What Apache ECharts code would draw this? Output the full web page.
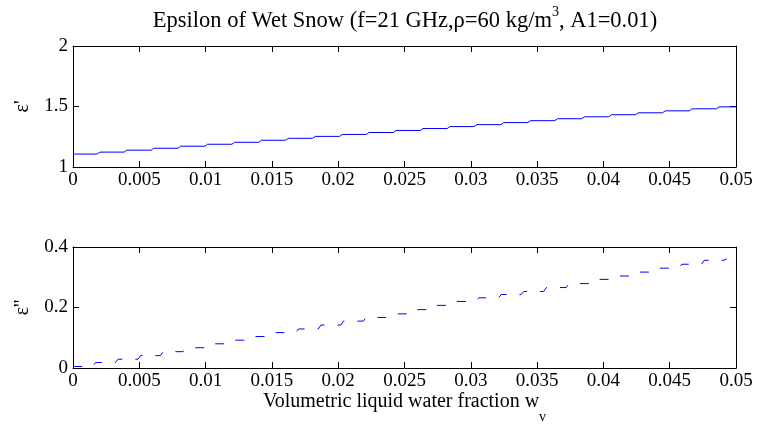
<!DOCTYPE html>
<html>
<head>
<meta charset="utf-8">
<script src="https://cdn.jsdelivr.net/npm/echarts@6/dist/echarts.min.js"></script>
<style>html,body{margin:0;padding:0;background:#fff}#c{width:757px;height:426px}</style>
</head>
<body>
<div id="c"></div>
<script>
// Top panel: epsilon' (solid, stepped) - x where each level starts, and level values
const wTop = [0, 0.00203, 0.00406, 0.00609, 0.00812, 0.01015, 0.01218, 0.01421, 0.01624, 0.01827,
  0.0203, 0.02233, 0.02436, 0.02639, 0.02842, 0.03045, 0.03248, 0.03451, 0.03654, 0.03857,
  0.0406, 0.04263, 0.04466, 0.04669, 0.04872, 0.05];
const epsReal = [1.107, 1.123, 1.139, 1.155, 1.172, 1.188, 1.204, 1.221, 1.237, 1.253,
  1.269, 1.285, 1.302, 1.318, 1.334, 1.350, 1.367, 1.383, 1.399, 1.415,
  1.432, 1.448, 1.464, 1.481, 1.497, 1.497];
// Bottom panel: epsilon'' (dashed, stepped)
const wBot = [0, 0.0017, 0.0034, 0.0051, 0.0068, 0.0085, 0.0102, 0.0119, 0.0136, 0.0153,
  0.017, 0.0187, 0.0204, 0.0221, 0.0238, 0.0255, 0.0272, 0.0289, 0.0306, 0.0323,
  0.034, 0.0357, 0.0374, 0.0391, 0.0408, 0.0425, 0.0442, 0.0459, 0.0476, 0.0493];
const epsImag = [0.005, 0.018, 0.029, 0.041, 0.054, 0.067, 0.080, 0.092, 0.104, 0.117,
  0.129, 0.142, 0.155, 0.167, 0.179, 0.193, 0.207, 0.220, 0.232, 0.243,
  0.253, 0.266, 0.279, 0.293, 0.304, 0.317, 0.330, 0.343, 0.356, 0.361];
const xTicks = {min: 0, max: 0.05, interval: 0.005};
const yTopTicks = {min: 1, max: 2, interval: 0.5};
const yBotTicks = {min: 0, max: 0.4, interval: 0.2};

// Staircase: each level holds until the next x, then a short slanted rise.
const RISE_W = 0.0002;
function stairs(xs, vs) {
  const out = [];
  for (let i = 0; i < xs.length - 1; i++) {
    out.push([xs[i], vs[i]]);
    out.push([xs[i + 1] - RISE_W, vs[i]]);
  }
  out.push([xs[xs.length - 1], vs[vs.length - 1]]);
  return out;
}

const FONT = 'Liberation Serif';
const axisLineS = {show: true, onZero: false, lineStyle: {color: '#000', width: 1}};
const tickS = {show: true, inside: true, length: 6, lineStyle: {color: '#000', width: 1}};
const labelS = {color: '#000', fontFamily: FONT, fontSize: 19, fontWeight: 'normal'};

function xAx(grid, pos, labels, extra) {
  return Object.assign({
    type: 'value', gridIndex: grid, position: pos,
    min: xTicks.min, max: xTicks.max, interval: xTicks.interval,
    axisLine: axisLineS, axisTick: tickS, splitLine: {show: false},
    axisLabel: labels ? Object.assign({margin: 4}, labelS) : {show: false}
  }, extra || {});
}
function yAx(grid, pos, t, labels, extra) {
  return Object.assign({
    type: 'value', gridIndex: grid, position: pos,
    min: t.min, max: t.max, interval: t.interval,
    axisLine: axisLineS, axisTick: tickS, splitLine: {show: false},
    axisLabel: labels ? Object.assign({margin: 5}, labelS) : {show: false}
  }, extra || {});
}

const chart = echarts.init(document.getElementById('c'), null, {renderer: 'canvas'});
chart.setOption({
  animation: false,
  backgroundColor: '#fff',
  title: {
    text: '{t|Epsilon of Wet Snow (f=21 GHz,ρ=60 kg/m}{s|3}{t|, A1=0.01)}',
    left: 400, top: 0, textAlign: 'center',
    textStyle: {
      fontWeight: 'normal', fontFamily: FONT,
      rich: {
        t: {fontFamily: FONT, fontSize: 22.5, fontWeight: 'normal', color: '#000', verticalAlign: 'top', padding: [5, 0, 0, 0]},
        s: {fontFamily: FONT, fontSize: 14, fontWeight: 'normal', color: '#000', verticalAlign: 'top'}
      }
    }
  },
  grid: [
    {left: 73, right: 21, top: 46, height: 121},
    {left: 73, right: 21, top: 247, height: 121}
  ],
  xAxis: [
    xAx(0, 'bottom', true),
    xAx(0, 'top', false),
    xAx(1, 'bottom', true, {
      name: '{n|Volumetric liquid water fraction w}{s|v}',
      nameLocation: 'middle', nameGap: 16,
      nameTextStyle: {
        verticalAlign: 'top',
        rich: {
          n: {fontFamily: FONT, fontSize: 20, color: '#000', verticalAlign: 'top'},
          s: {fontFamily: FONT, fontSize: 14, color: '#000', verticalAlign: 'top', padding: [18, 0, 0, 0]}
        }
      }
    }),
    xAx(1, 'top', false)
  ],
  yAxis: [
    yAx(0, 'left', yTopTicks, true, {
      name: "ε'", nameLocation: 'middle', nameRotate: 90, nameGap: 40,
      nameTextStyle: {fontFamily: FONT, fontSize: 20, color: '#000'}
    }),
    yAx(0, 'right', yTopTicks, false),
    yAx(1, 'left', yBotTicks, true, {
      name: "ε''", nameLocation: 'middle', nameRotate: 90, nameGap: 40,
      nameTextStyle: {fontFamily: FONT, fontSize: 20, color: '#000'}
    }),
    yAx(1, 'right', yBotTicks, false)
  ],
  series: [
    {
      type: 'line', xAxisIndex: 0, yAxisIndex: 0,
      showSymbol: false, symbol: 'none',
      data: stairs(wTop, epsReal),
      lineStyle: {color: '#0000ff', width: 1}
    },
    {
      type: 'line', xAxisIndex: 2, yAxisIndex: 2,
      showSymbol: false, symbol: 'none',
      data: stairs(wBot, epsImag),
      lineStyle: {color: '#0000ff', width: 1, type: [9, 13]}
    }
  ]
});
</script>
</body>
</html>
